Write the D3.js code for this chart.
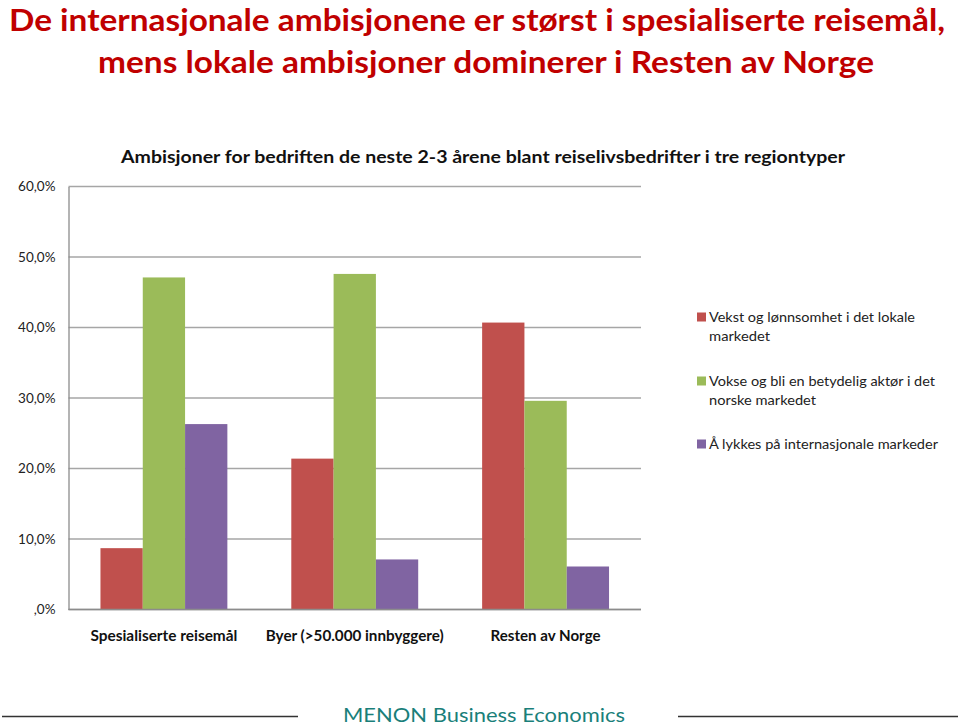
<!DOCTYPE html>
<html>
<head>
<meta charset="utf-8">
<script src="https://cdn.jsdelivr.net/npm/d3@7/dist/d3.min.js"></script>
<style>
  html, body { margin: 0; padding: 0; background: #fff; }
  svg { display: block; }
  text { font-family: Lato, "Open Sans", "Noto Sans", sans-serif; }
</style>
</head>
<body>
<svg id="chart" width="960" height="726"></svg>
<script>
const titleLines = ["De internasjonale ambisjonene er størst i spesialiserte reisemål,",
                    "mens lokale ambisjoner dominerer i Resten av Norge"];
const chartTitle = "Ambisjoner for bedriften de neste 2-3 årene blant reiselivsbedrifter i tre regiontyper";
const categories = ["Spesialiserte reisemål", "Byer (>50.000 innbyggere)", "Resten av Norge"];
const seriesNames = ["Vekst og lønnsomhet i det lokale markedet",
                     "Vokse og bli en betydelig aktør i det norske markedet",
                     "Å lykkes på internasjonale markeder"];
const legendLines = [["Vekst og lønnsomhet i det lokale", "markedet"],
                     ["Vokse og bli en betydelig aktør i det", "norske markedet"],
                     ["Å lykkes på internasjonale markeder"]];
const lokal = [8.7, 21.4, 40.7];
const norsk = [47.1, 47.6, 29.6];
const internasjonal = [26.3, 7.1, 6.1];
const yTicks = [0, 10, 20, 30, 40, 50, 60];
const tickLabels = [",0%", "10,0%", "20,0%", "30,0%", "40,0%", "50,0%", "60,0%"];
const colors = ["#C0504D", "#9BBB59", "#8064A2"];
const footerText = "MENON Business Economics";

const series = [lokal, norsk, internasjonal];
const svg = d3.select("#chart");

function fit(sel, w) {
  sel.each(function () {
    const len = this.getComputedTextLength();
    if (len > 0) d3.select(this).attr("textLength", w).attr("lengthAdjust", "spacingAndGlyphs");
  });
  return sel;
}

// Main title
const tw = [936, 776];
const tx = [477, 486];
svg.selectAll("text.title").data(titleLines).join("text")
  .attr("class", "title")
  .attr("x", (d, i) => tx[i]).attr("y", (d, i) => 31 + i * 42)
  .attr("text-anchor", "middle")
  .attr("font-size", 30).attr("font-weight", "bold")
  .attr("fill", "#C00000")
  .text(d => d)
  .each(function (d, i) { fit(d3.select(this), tw[i]); });

const margin = { left: 68.5, right: 641, top: 186.5, bottom: 609.5 };
const x = d3.scaleBand().domain(categories).range([margin.left, margin.right])
  .paddingInner(0.335).paddingOuter(0.1675);
const xs = d3.scaleBand().domain(d3.range(series.length)).range([0, x.bandwidth()]);
const y = d3.scaleLinear().domain([0, 60]).range([margin.bottom, margin.top]);

// Gridlines
svg.append("g").selectAll("line").data(yTicks).join("line")
  .attr("x1", margin.left).attr("x2", margin.right)
  .attr("y1", d => y(d)).attr("y2", d => y(d))
  .attr("stroke", "#A6A6A6").attr("stroke-width", 1.3);

// Y axis
const yAxis = d3.axisLeft(y).tickValues(yTicks).tickSize(0).tickPadding(13)
  .tickFormat((d, i) => tickLabels[i]);
const gy = svg.append("g").attr("transform", `translate(${margin.left},0)`).call(yAxis);
gy.select(".domain").attr("stroke", "#8C8C8C").attr("stroke-width", 1.3);
gy.selectAll("text").attr("font-size", 13.5).attr("fill", "#222")
  .attr("font-family", "Lato, sans-serif");

// Bars
const groups = svg.append("g").selectAll("g").data(categories).join("g")
  .attr("transform", d => `translate(${x(d)},0)`);
groups.selectAll("rect").data((c, ci) => series.map((s, si) => ({ si, v: s[ci] }))).join("rect")
  .attr("x", d => xs(d.si)).attr("width", xs.bandwidth())
  .attr("y", d => y(d.v)).attr("height", d => y(0) - y(d.v))
  .attr("fill", d => colors[d.si]);

// Bottom axis line
svg.append("line").attr("x1", margin.left).attr("x2", margin.right)
  .attr("y1", y(0)).attr("y2", y(0)).attr("stroke", "#8C8C8C").attr("stroke-width", 1.5);

// Category labels
const cw = [147, 178, 110];
svg.selectAll("text.cat").data(categories).join("text")
  .attr("class", "cat")
  .attr("x", d => x(d) + x.bandwidth() / 2).attr("y", 641)
  .attr("text-anchor", "middle").attr("font-size", 15).attr("font-weight", "bold").attr("fill", "#111")
  .text(d => d)
  .each(function (d, i) { fit(d3.select(this), cw[i]); });

// Chart title
svg.append("text").attr("x", 483).attr("y", 163).attr("text-anchor", "middle")
  .attr("font-size", 16.5).attr("font-weight", "bold").attr("fill", "#111")
  .text(chartTitle).call(s => fit(s, 724));

// Legend
const legendY = [317, 381, 444];
const lw = [[206, 61], [226, 107], [229]];
const lg = svg.append("g").selectAll("g").data(seriesNames).join("g")
  .attr("transform", (d, i) => `translate(697,${legendY[i]})`);
lg.append("rect").attr("x", 0).attr("y", -4.5).attr("width", 9).attr("height", 9)
  .attr("fill", (d, i) => colors[i]);
lg.each(function (d, i) {
  d3.select(this).selectAll("text").data(legendLines[i]).join("text")
    .attr("x", 12).attr("y", (t, j) => 5 + j * 19)
    .attr("font-size", 13.5).attr("fill", "#222")
    .text(t => t)
    .each(function (t, j) { fit(d3.select(this), lw[i][j]); });
});

// Footer
svg.append("line").attr("x1", 2).attr("x2", 298).attr("y1", 716.5).attr("y2", 716.5)
  .attr("stroke", "#333").attr("stroke-width", 1.5);
svg.append("line").attr("x1", 678).attr("x2", 958).attr("y1", 716.5).attr("y2", 716.5)
  .attr("stroke", "#333").attr("stroke-width", 1.5);
svg.append("text").attr("x", 484).attr("y", 722).attr("text-anchor", "middle")
  .attr("font-size", 20).attr("fill", "#1A7F7A")
  .text(footerText).call(s => fit(s, 282));
</script>
</body>
</html>
